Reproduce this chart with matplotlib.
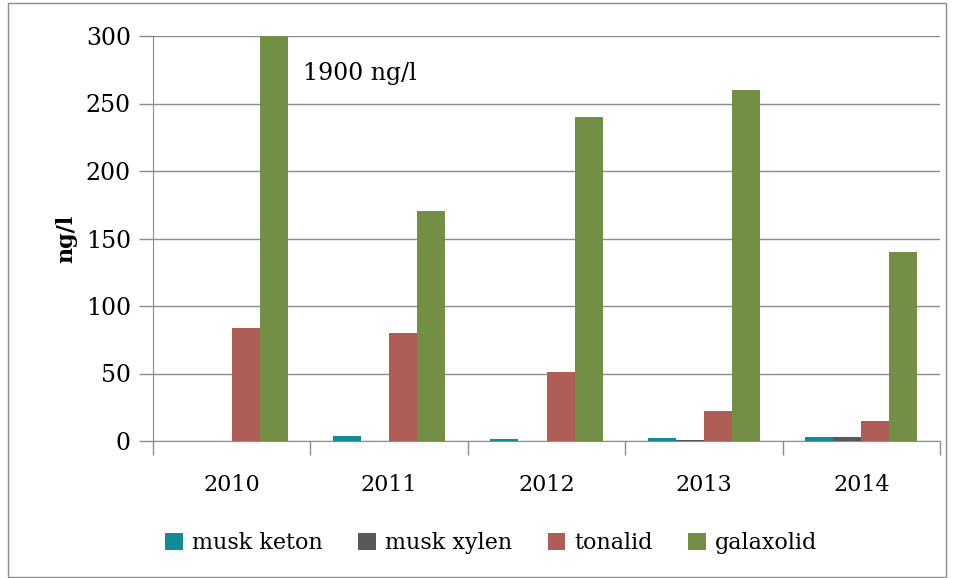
import matplotlib.pyplot as plt
import numpy as np
from matplotlib.patches import Rectangle

years = ["2010", "2011", "2012", "2013", "2014"]
musk_keton = [0, 4, 1.5, 2, 3]
musk_xylen = [0, 0, 0, 0.4, 3]
tonalid = [84, 80, 51, 22, 15]
galaxolid = [300, 170, 240, 260, 140]

series = [
    ("musk keton", musk_keton, "#138A96"),
    ("musk xylen", musk_xylen, "#58585C"),
    ("tonalid", tonalid, "#AE5D57"),
    ("galaxolid", galaxolid, "#738F45"),
]

plt.rcParams['font.family'] = ['DejaVu Serif']

fig = plt.figure(figsize=(9.57, 5.78), dpi=100)
ax = fig.add_axes([153 / 957, 1 - 441 / 578, 787 / 957, 405 / 578])

x = np.arange(len(years))
w = 0.178
for i, (name, vals, col) in enumerate(series):
    ax.bar(x + (i - 1.5) * w, vals, w, color=col, label=name, zorder=3)

ax.set_xlim(-0.5, len(years) - 0.5)
ax.set_ylim(0, 300)
ax.set_yticks(range(0, 301, 50))
ax.yaxis.grid(True, color="#8c8c8c", linewidth=1, zorder=0)
ax.set_xticks(x)
ax.set_xticklabels(years, fontsize=16)
ax.set_xticks(np.arange(-0.5, len(years)), minor=True)
ax.tick_params(axis="x", which="major", length=0, pad=24)
ax.tick_params(axis="x", which="minor", length=10, color="#8c8c8c", width=1)
ax.tick_params(axis="y", length=10, color="#8c8c8c", width=1, labelsize=17, pad=6)

for s in ["top", "right"]:
    ax.spines[s].set_visible(False)
ax.spines["left"].set_color("#8c8c8c")
ax.spines["bottom"].set_color("#8c8c8c")

ax.set_ylabel("ng/l", fontsize=16, fontweight="bold", labelpad=6)
ax.text(0.45, 272, "1900 ng/l", fontsize=17, va="center")

ax.legend(loc="upper center", bbox_to_anchor=(0.43, -0.175), ncol=4, frameon=False,
          fontsize=16, handlelength=0.8, handleheight=0.8, handletextpad=0.4,
          columnspacing=1.6)

fig.patches.append(Rectangle((8 / 957, 0.002), 938 / 957, 0.993, transform=fig.transFigure,
                             fill=False, edgecolor="#8c8c8c", linewidth=1))

fig.savefig("out.png", dpi=100)
